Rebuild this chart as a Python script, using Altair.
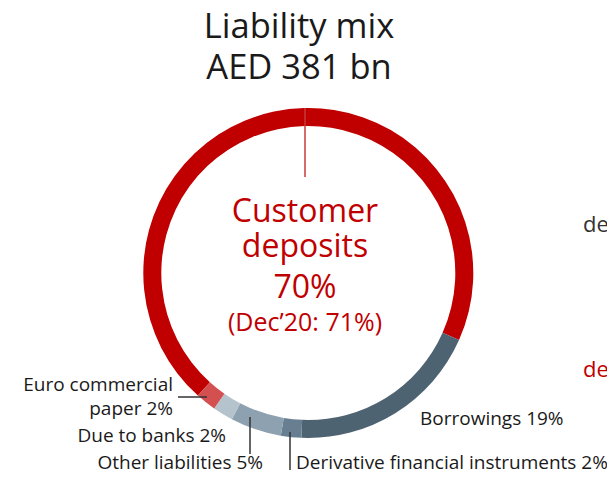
import math
import altair as alt
import pandas as pd

# ---- data ----
categories = ["Customer deposits", "Borrowings", "Derivative financial instruments",
              "Other liabilities", "Due to banks", "Euro commercial paper"]
shares = [70, 19, 2, 5, 2, 2]
colors = ["#C00000", "#4E6372", "#687F92", "#8DA1B0", "#B5C3CC", "#D45050"]
title_lines = ["Liability mix", "AED 381 bn"]
center_lines = ["Customer", "deposits", "70%", "(Dec\u201920: 71%)"]
side_words = ["de", "de"]

# ---- layout (pixels inside the 599x463 chart) ----
W, H = 599, 463
CX, CY = 300.3, 265.0
R_OUT, R_IN = 165, 147
START_DEG = 222.0
FONT = "Open Sans"
RED = "#C00000"
INK = "#1a1a1a"
LBL = 19

a0 = math.radians(START_DEG)

arc_df = pd.DataFrame({
    "category": categories,
    "share": shares,
    "color": colors,
    "idx": list(range(len(categories))),
})

xs = alt.Scale(domain=[0, W], range=[0, W])
ys = alt.Scale(domain=[0, H], range=[0, H])

arcs = alt.Chart(arc_df).mark_arc(radius=R_OUT, radius2=R_IN, stroke=None).encode(
    theta=alt.Theta("share:Q", stack=True, scale=alt.Scale(range=[a0, a0 + 2 * math.pi])),
    order=alt.Order("idx:Q"),
    color=alt.Color("color:N", scale=None),
    x=alt.value(CX),
    y=alt.value(CY),
)

# leader lines
lines_df = pd.DataFrame({
    "x": [297, 170, 242, 282],
    "x2": [297, 199, 242, 282],
    "y": [100, 389, 409, 424],
    "y2": [169, 389, 446, 462],
    "color": ["#C83A3A", "#333333", "#333333", "#333333"],
})
rules = alt.Chart(lines_df).mark_rule(strokeWidth=1.5).encode(
    x=alt.X("x:Q", scale=xs, axis=None),
    x2="x2:Q",
    y=alt.Y("y:Q", scale=ys, axis=None),
    y2="y2:Q",
    color=alt.Color("color:N", scale=None),
)

def pct(i):
    return f"{shares[i]}%"

# centered texts: title + center label
center_df = pd.DataFrame({
    "text": title_lines + center_lines,
    "x": [291, 291, 297, 297, 297, 297],
    "y": [30, 71, 214, 249, 290, 323],
    "size": [34.5, 34.5, 32, 32, 32, 25],
    "color": [INK, INK, RED, RED, RED, RED],
})
center_text = alt.Chart(center_df).mark_text(align="center", baseline="alphabetic", font=FONT).encode(
    x=alt.X("x:Q", scale=xs, axis=None),
    y=alt.Y("y:Q", scale=ys, axis=None),
    text="text:N",
    size=alt.Size("size:Q", scale=None),
    color=alt.Color("color:N", scale=None),
)

# right-aligned labels
right_df = pd.DataFrame({
    "text": ["Euro commercial", "paper " + pct(5), categories[4] + " " + pct(4),
             categories[3] + " " + pct(3)],
    "x": [165, 165, 218, 255],
    "y": [383, 407, 434, 461],
})
right_text = alt.Chart(right_df).mark_text(align="right", baseline="alphabetic", font=FONT,
                                           fontSize=LBL, color=INK).encode(
    x=alt.X("x:Q", scale=xs, axis=None),
    y=alt.Y("y:Q", scale=ys, axis=None),
    text="text:N",
)

# left-aligned labels
left_df = pd.DataFrame({
    "text": [categories[2] + " " + pct(2), categories[1] + " " + pct(1)] + side_words,
    "x": [288, 412, 575, 575],
    "y": [461, 417, 224, 369],
    "size": [LBL, LBL, 22, 22],
    "color": [INK, INK, "#333333", RED],
})
left_text = alt.Chart(left_df).mark_text(align="left", baseline="alphabetic", font=FONT).encode(
    x=alt.X("x:Q", scale=xs, axis=None),
    y=alt.Y("y:Q", scale=ys, axis=None),
    text="text:N",
    size=alt.Size("size:Q", scale=None),
    color=alt.Color("color:N", scale=None),
)

chart = alt.layer(arcs, rules, center_text, right_text, left_text).properties(
    width=W, height=H, padding=0,
    autosize=alt.AutoSizeParams(type="none"),
).configure_view(stroke=None)

chart.save("out.html", embed_options={"renderer": "svg", "actions": False})
